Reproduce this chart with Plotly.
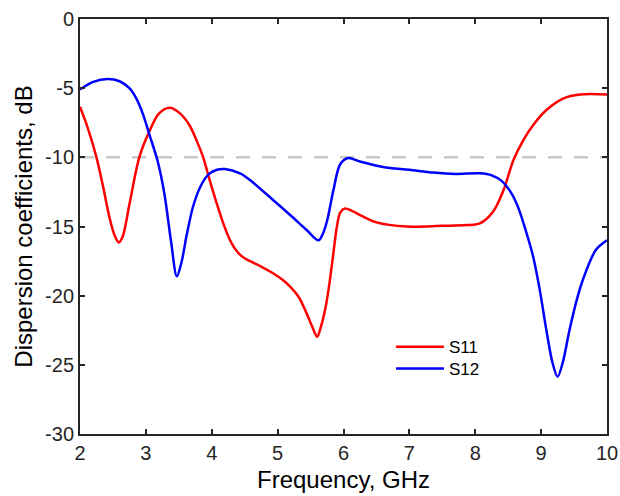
import plotly.graph_objects as go

# S11 data (GHz, dB)
s11_freq = [2.00, 2.12, 2.25, 2.35, 2.45, 2.53, 2.59, 2.65, 2.75, 2.90, 3.05, 3.20, 3.36,
            3.50, 3.66, 3.78, 3.87, 3.96, 4.08, 4.20, 4.30, 4.40, 4.50, 4.62, 4.75, 4.93,
            5.06, 5.19, 5.32, 5.44, 5.53, 5.60, 5.66, 5.73, 5.79, 5.85, 5.90, 5.95, 6.02,
            6.12, 6.25, 6.50, 6.96, 7.50, 7.87, 8.07, 8.27, 8.43, 8.58, 8.73, 8.88, 9.08,
            9.34, 9.59, 10.00]
s11_db = [-6.34, -7.9, -10.0, -12.1, -14.4, -15.7, -16.15, -15.7, -13.4, -10.0, -8.15, -6.82, -6.41,
          -6.75, -7.66, -8.9, -10.0, -11.5, -13.4, -15.1, -16.2, -16.9, -17.3, -17.6, -17.9, -18.38,
          -18.8, -19.35, -20.1, -21.28, -22.3, -22.97, -22.2, -20.8, -19.0, -16.8, -15.0, -14.0, -13.7,
          -13.85, -14.17, -14.7, -15.0, -14.95, -14.9, -14.77, -13.93, -12.36, -10.19, -8.75, -7.66, -6.58,
          -5.73, -5.45, -5.45]

# S12 data (GHz, dB)
s12_freq = [2.00, 2.20, 2.42, 2.60, 2.75, 2.85, 2.95, 3.05, 3.18, 3.28, 3.38, 3.47, 3.54,
            3.62, 3.72, 3.84, 3.96, 4.08, 4.20, 4.43, 4.58, 4.93, 5.19, 5.44, 5.62, 5.68,
            5.75, 5.85, 5.95, 6.07, 6.25, 6.60, 7.00, 7.36, 7.70, 8.07, 8.25, 8.40, 8.55,
            8.65, 8.78, 8.88, 8.98, 9.08, 9.17, 9.25, 9.33, 9.43, 9.53, 9.63, 9.83, 10.00]
s12_db = [-5.1, -4.55, -4.34, -4.5, -5.0, -5.7, -6.8, -8.3, -10.3, -12.6, -16.0, -18.6, -17.6,
          -15.6, -13.5, -12.0, -11.2, -10.9, -10.85, -11.16, -11.64, -13.08, -14.17, -15.25, -16.0, -15.6,
          -14.6, -12.3, -10.5, -10.05, -10.3, -10.7, -10.9, -11.1, -11.2, -11.15, -11.3, -11.7, -12.6,
          -13.6, -15.5, -17.2, -19.6, -22.5, -24.8, -25.86, -24.8, -22.5, -20.5, -18.9, -16.7, -16.0]

threshold_db = -10
x_ticks = [2, 3, 4, 5, 6, 7, 8, 9, 10]
y_ticks = [0, -5, -10, -15, -20, -25, -30]

FONT = "Liberation Sans, Arial, sans-serif"
AXC = "#262626"

fig = go.Figure()
fig.add_trace(go.Scatter(x=[x_ticks[0], x_ticks[-1]], y=[threshold_db, threshold_db], mode="lines",
                         line=dict(color="#c8c8c8", width=2.5, dash="14px,12px"),
                         showlegend=False, hoverinfo="skip"))
fig.add_trace(go.Scatter(x=s11_freq, y=s11_db, mode="lines", name="S11", legend="legend",
                         line=dict(color="#ff0000", width=2.5, shape="spline", smoothing=0.9)))
fig.add_trace(go.Scatter(x=s12_freq, y=s12_db, mode="lines", name="S12", legend="legend2",
                         line=dict(color="#0000ff", width=2.5, shape="spline", smoothing=0.9)))

axis_common = dict(showgrid=False, zeroline=False, showline=True, linecolor=AXC, linewidth=2,
                   mirror="allticks", ticks="inside", ticklen=5, tickwidth=2, tickcolor=AXC,
                   automargin=False,
                   tickfont=dict(family=FONT, size=20, color=AXC))

fig.update_xaxes(range=[2, 10], tickvals=x_ticks, ticktext=[str(v) for v in x_ticks],
                 title=dict(text="Frequency, GHz", font=dict(family=FONT, size=24, color="#000"), standoff=8),
                 **axis_common)
fig.update_yaxes(range=[-30, 0], tickvals=y_ticks, ticktext=[str(v) for v in y_ticks],
                 title=dict(text="Dispersion coefficients, dB", font=dict(family=FONT, size=24, color="#000"), standoff=6),
                 **axis_common)

leg_common = dict(xanchor="left", yanchor="middle", bgcolor="rgba(0,0,0,0)",
                  font=dict(family=FONT, size=17, color="#000"), itemwidth=48)
fig.update_layout(
    width=620, height=496,
    margin=dict(l=80, r=13, t=19, b=62),
    paper_bgcolor="white", plot_bgcolor="white",
    showlegend=True,
    legend=dict(x=0.590, y=0.209, **leg_common),
    legend2=dict(x=0.590, y=0.157, **leg_common),
)

fig.write_html("out.html")
